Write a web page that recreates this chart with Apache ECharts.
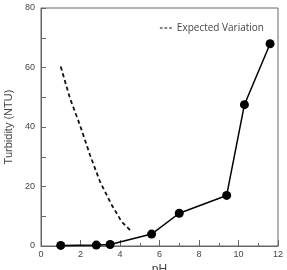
<!DOCTYPE html>
<html>
<head>
<meta charset="utf-8">
<script src="https://cdn.jsdelivr.net/npm/echarts@6/dist/echarts.min.js"></script>
<style>
html, body { margin: 0; padding: 0; background: #fff; }
#chart { width: 287px; height: 270px; }
</style>
</head>
<body>
<div id="chart"></div>
<script>
var chart = echarts.init(document.getElementById('chart'));

// measured turbidity vs pH
var phMeasured = [1.0, 2.8, 3.5, 5.6, 7.0, 9.4, 10.3, 11.6];
var turbMeasured = [0.2, 0.3, 0.5, 4.0, 11.0, 17.0, 47.5, 68.0];

// expected variation (dashed)
var phExpected = [1.0, 1.47, 1.97, 2.48, 2.99, 3.58, 4.08, 4.59];
var turbExpected = [60.3, 49.6, 40.7, 30.6, 21.6, 13.8, 8.2, 4.8];

function pairs(xs, ys) {
    var res = [];
    for (var i = 0; i < xs.length; i++) {
        res.push([xs[i], ys[i]]);
    }
    return res;
}

var axisGray = '#666';
var textGray = '#444';

var option = {
    animation: false,
    grid: {
        left: 41,
        right: 9,
        top: 8,
        bottom: 24,
        outerBoundsMode: 'none',
        containLabel: false,
        show: true,
        borderColor: axisGray,
        borderWidth: 1
    },
    legend: {
        data: [{ name: 'Expected Variation', icon: 'path://M0,0 H3 V1 H0 Z M5,0 H8 V1 H5 Z M10,0 H13 V1 H10 Z' }],
        right: 18,
        top: 18,
        itemWidth: 12,
        itemHeight: 1.4,
        itemGap: 8,
        textStyle: { fontFamily: 'Open Sans', fontSize: 10, color: textGray }
    },
    xAxis: {
        type: 'value',
        min: 0,
        max: 12,
        interval: 2,
        name: 'pH',
        nameLocation: 'middle',
        nameGap: 17,
        nameTextStyle: { fontFamily: 'Liberation Sans', fontSize: 12, color: textGray },
        axisLine: { lineStyle: { color: axisGray } },
        axisTick: { inside: true, length: 6, lineStyle: { color: axisGray } },
        minorTick: { show: true, splitNumber: 2, length: 3, lineStyle: { color: axisGray } },
        axisLabel: { fontFamily: 'Liberation Sans', fontSize: 9, color: textGray, margin: 4 },
        splitLine: { show: false }
    },
    yAxis: {
        type: 'value',
        min: 0,
        max: 80,
        interval: 20,
        name: 'Turbidity (NTU)',
        nameLocation: 'middle',
        nameGap: 20,
        nameTextStyle: { fontFamily: 'Liberation Sans', fontSize: 11, color: textGray },
        axisLine: { lineStyle: { color: axisGray } },
        axisTick: { inside: true, length: 5, lineStyle: { color: axisGray } },
        minorTick: { show: true, splitNumber: 2, length: 5, lineStyle: { color: axisGray } },
        axisLabel: { fontFamily: 'Liberation Sans', fontSize: 9, color: textGray, margin: 6 },
        splitLine: { show: false }
    },
    series: [{
        name: 'Measured',
        type: 'line',
        data: pairs(phMeasured, turbMeasured),
        symbol: 'circle',
        symbolSize: 9,
        itemStyle: { color: '#000' },
        lineStyle: { color: '#000', width: 1.5 }
    }, {
        name: 'Expected Variation',
        type: 'line',
        data: pairs(phExpected, turbExpected),
        symbol: 'none',
        itemStyle: { color: '#111' },
        lineStyle: { color: '#111', width: 1.8, type: [4, 3] }
    }]
};

chart.setOption(option);
</script>
</body>
</html>
